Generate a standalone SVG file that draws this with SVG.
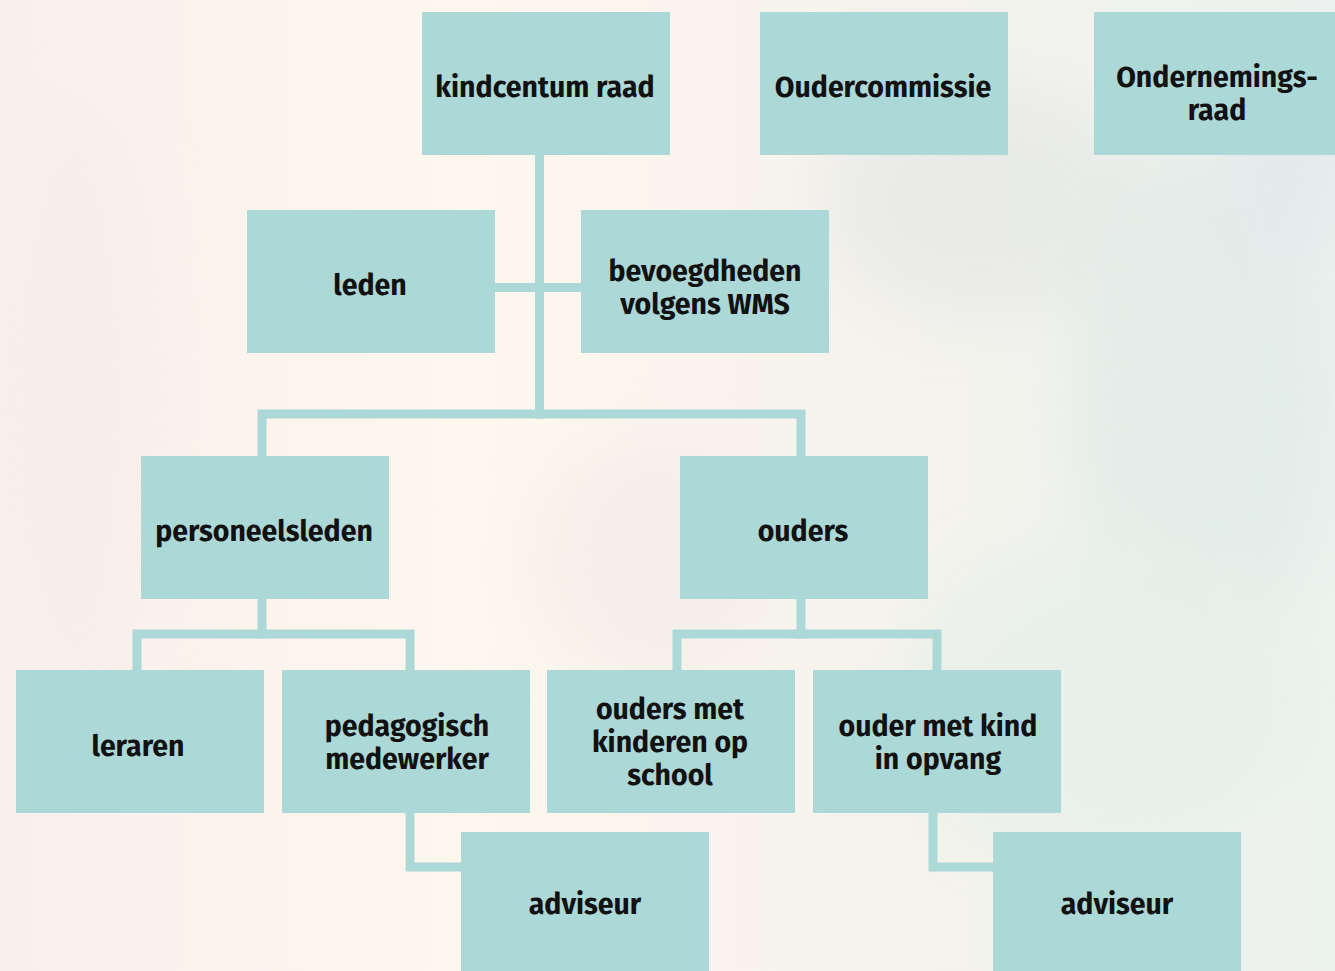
<svg xmlns="http://www.w3.org/2000/svg" width="1335" height="971" viewBox="0 0 1335 971">
<defs>
<linearGradient id="bg" x1="0" y1="0" x2="1" y2="0">
<stop offset="0" stop-color="#faefec"/>
<stop offset="0.35" stop-color="#fdf7ee"/>
<stop offset="0.6" stop-color="#f7f3ed"/>
<stop offset="1" stop-color="#ecf2ee"/>
</linearGradient>
<filter id="blur" x="-50%" y="-50%" width="200%" height="200%"><feGaussianBlur stdDeviation="30"/></filter>
<style>
.box{fill:#acd8d7}
.lbl{font-family:"Fira Sans","Lato","Open Sans",sans-serif;font-weight:700;font-size:28.5px;fill:#111;text-anchor:middle}
.ln{fill:none;stroke:#acd8d7;stroke-width:9;stroke-linecap:square;stroke-linejoin:miter}
</style>
</defs>
<rect width="1335" height="971" fill="url(#bg)"/>
<g filter="url(#blur)" opacity="0.6">
<ellipse cx="980" cy="200" rx="160" ry="120" fill="#e3e6e4"/>
<ellipse cx="1200" cy="400" rx="130" ry="260" fill="#dde9e6"/>
<ellipse cx="1100" cy="700" rx="200" ry="160" fill="#e4efe7"/>
<ellipse cx="650" cy="560" rx="120" ry="120" fill="#f1ece6"/>
<ellipse cx="80" cy="400" rx="80" ry="300" fill="#f6eceb"/>
<ellipse cx="1290" cy="150" rx="60" ry="120" fill="#dfe4ea"/>
</g>
<g id="connectors">
<path class="ln" d="M539.5 155 V414"/>
<path class="ln" d="M495 287.5 H581"/>
<path class="ln" d="M262 456 V414 H801 V456"/>
<path class="ln" d="M262 599 V634"/>
<path class="ln" d="M137 670 V634 H410 V670"/>
<path class="ln" d="M801 599 V634"/>
<path class="ln" d="M677 670 V634 H937 V670"/>
<path class="ln" d="M410 813 V867 H461"/>
<path class="ln" d="M933 813 V867 H993"/>
</g>
<g id="n-kindcentum"><rect class="box" x="422" y="12" width="248" height="143"/><text class="lbl" x="545" y="97">kindcentum raad</text></g>
<g id="n-oudercommissie"><rect class="box" x="760" y="12" width="248" height="143"/><text class="lbl" x="883" y="97">Oudercommissie</text></g>
<g id="n-or"><rect class="box" x="1094" y="12" width="241" height="143"/><text class="lbl" x="1217" y="87">Ondernemings-</text><text class="lbl" x="1217" y="120">raad</text></g>
<g id="n-leden"><rect class="box" x="247" y="210" width="248" height="143"/><text class="lbl" x="370" y="295">leden</text></g>
<g id="n-bevoegdheden"><rect class="box" x="581" y="210" width="248" height="143"/><text class="lbl" x="705" y="281">bevoegdheden</text><text class="lbl" x="705" y="314">volgens WMS</text></g>
<g id="n-personeelsleden"><rect class="box" x="141" y="456" width="248" height="143"/><text class="lbl" x="264" y="541">personeelsleden</text></g>
<g id="n-ouders"><rect class="box" x="680" y="456" width="248" height="143"/><text class="lbl" x="803" y="541">ouders</text></g>
<g id="n-leraren"><rect class="box" x="16" y="670" width="248" height="143"/><text class="lbl" x="138" y="756">leraren</text></g>
<g id="n-pedagogisch"><rect class="box" x="282" y="670" width="248" height="143"/><text class="lbl" x="407" y="736">pedagogisch</text><text class="lbl" x="407" y="769">medewerker</text></g>
<g id="n-oudersschool"><rect class="box" x="547" y="670" width="248" height="143"/><text class="lbl" x="670" y="719">ouders met</text><text class="lbl" x="670" y="752">kinderen op</text><text class="lbl" x="670" y="785">school</text></g>
<g id="n-ouderopvang"><rect class="box" x="813" y="670" width="248" height="143"/><text class="lbl" x="938" y="736">ouder met kind</text><text class="lbl" x="938" y="769">in opvang</text></g>
<g id="n-adviseur1"><rect class="box" x="461" y="832" width="248" height="139"/><text class="lbl" x="585" y="914">adviseur</text></g>
<g id="n-adviseur2"><rect class="box" x="993" y="832" width="248" height="139"/><text class="lbl" x="1117" y="914">adviseur</text></g>
</svg>
